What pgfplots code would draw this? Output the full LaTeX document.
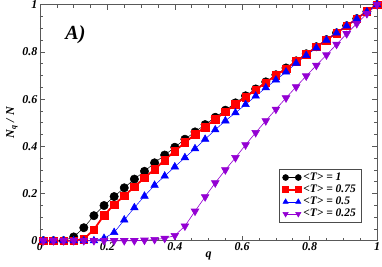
\documentclass[border=0pt]{standalone}
\usepackage{fontspec}
\setmainfont{Liberation Serif}
\usepackage{pgfplots}
\usepackage{pgfplotstable}
\pgfplotsset{compat=1.18}
\definecolor{gviolet}{RGB}{148,0,211}
\pgfplotstableread{
q b r bl p
0.01 0 0 0 0
0.04 0 0 0 0
0.07 0 0 0 0
0.10 0.016 0 0 0
0.13 0.055 0.007 0 0
0.16 0.106 0.047 0 0
0.19 0.149 0.108 0.01 0
0.22 0.187 0.153 0.035 0
0.25 0.224 0.19 0.088 0
0.28 0.261 0.228 0.14 0
0.31 0.294 0.267 0.189 0.002
0.34 0.33 0.302 0.235 0.005
0.37 0.363 0.342 0.274 0.01
0.40 0.396 0.38 0.313 0.022
0.43 0.43 0.416 0.352 0.062
0.46 0.461 0.45 0.39 0.125
0.49 0.492 0.482 0.43 0.186
0.52 0.523 0.515 0.47 0.245
0.55 0.553 0.546 0.508 0.3
0.58 0.584 0.578 0.542 0.352
0.61 0.614 0.609 0.577 0.406
0.64 0.643 0.639 0.613 0.458
0.67 0.673 0.67 0.648 0.508
0.70 0.703 0.70 0.681 0.557
0.73 0.732 0.729 0.715 0.605
0.76 0.762 0.76 0.752 0.652
0.79 0.792 0.79 0.785 0.698
0.82 0.822 0.821 0.817 0.743
0.85 0.852 0.85 0.85 0.787
0.88 0.881 0.88 0.88 0.832
0.91 0.911 0.91 0.91 0.877
0.94 0.941 0.941 0.94 0.92
0.97 0.971 0.972 0.97 0.962
1.00 1 1 1 1
}\data
\begin{document}
\begin{tikzpicture}
\path[use as bounding box] (-40pt,-25.3pt) rectangle (342pt,240.7pt);
\begin{axis}[
  at={(0pt,0pt)}, anchor=south west,
  width=337pt, height=236pt, scale only axis,
  xmin=0, xmax=1, ymin=0, ymax=1,
  xtick={0,0.2,0.4,0.6,0.8,1}, ytick={0,0.2,0.4,0.6,0.8,1},
  minor tick num=3,
  tick align=inside,
  major tick length=5pt, minor tick length=3pt,
  axis line style={black!65, line width=0.9pt},
  every tick/.style={black!65, line width=0.6pt},
  /pgf/number format/assume math mode=true,
  ticklabel style={font=\bfseries\itshape\fontsize{12}{12}\selectfont},
  xticklabel style={yshift=1.5pt},
  yticklabel style={xshift=1pt},
  xlabel={q}, ylabel={N\textsubscript{q} / N},
  label style={font=\bfseries\itshape\fontsize{12}{12}\selectfont},
  xlabel style={yshift=6pt},
  ylabel style={yshift=-2pt},
  clip=false,
  legend cell align=left,
  legend style={at={(0.953,0.078)}, anchor=south east, draw=black!70, line width=0.6pt,
    font=\bfseries\itshape\fontsize{11.5}{12}\selectfont, row sep=-1pt, inner xsep=3pt, inner ysep=1.5pt},
  legend image code/.code={\draw[#1, mark size=3pt] plot coordinates {(0pt,0pt) (12.7pt,0pt)};},
]
\addplot[black, line width=0.5pt, mark=*, mark size=4.2pt, mark options={fill=black}] table[x=q,y=b] {\data};
\addlegendentry{<T> = 1}
\addplot[red, line width=1.8pt, mark=square*, mark size=3.8pt, mark options={fill=red, line width=0.5pt}] table[x=q,y=r] {\data};
\addlegendentry{<T> = 0.75}
\addplot[blue, line width=0.5pt, mark=triangle*, mark size=4.4pt, mark options={fill=blue}] table[x=q,y=bl] {\data};
\addlegendentry{<T> = 0.5}
\addplot[gviolet, line width=0.6pt, mark=triangle*, mark size=4.4pt, mark options={fill=gviolet, rotate=180}] table[x=q,y=p] {\data};
\addlegendentry{<T> = 0.25}
\node[font=\bfseries\itshape\fontsize{20}{22}\selectfont, anchor=west] at (axis cs:0.065,0.875) {A)};
\end{axis}
\end{tikzpicture}
\end{document}
